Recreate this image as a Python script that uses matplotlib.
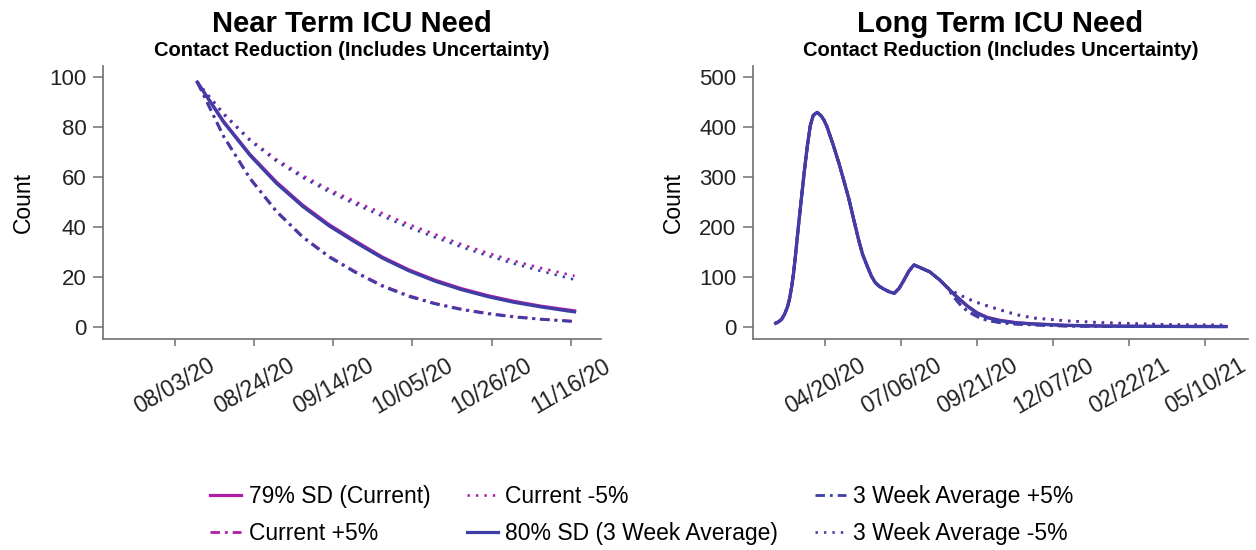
import matplotlib
matplotlib.use("Agg")
import matplotlib.pyplot as plt
import matplotlib.dates as mdates
import pandas as pd

plt.rcParams['font.family'] = ['Liberation Sans', 'DejaVu Sans']

MAG = "#B01CA6"
BLU = "#3D3FA5"

# ---- near term (weekly points) ----
near_dates = ["2020-08-09", "2020-08-16", "2020-08-23", "2020-08-30", "2020-09-06",
              "2020-09-13", "2020-09-20", "2020-09-27", "2020-10-04", "2020-10-11",
              "2020-10-18", "2020-10-25", "2020-11-01", "2020-11-08", "2020-11-15",
              "2020-11-17"]
near_cur = [98, 82.2, 69, 57.9, 48.6, 40.8, 34.2, 27.9, 22.8, 18.6, 15.2, 12.4, 10.1, 8.2, 6.7, 6.3]
near_cur_up = [98, 76.3, 59.5, 46.3, 36, 28.1, 21.9, 16.5, 12.4, 9.3, 7.0, 5.3, 4.0, 3.0, 2.3, 2.1]
near_cur_dn = [98, 85.5, 75, 67, 60.5, 55, 50, 45.5, 41, 37, 33, 29.5, 26.3, 23.5, 21, 20.3]
near_3wk = [98, 81.9, 68.6, 57.4, 48.1, 40.3, 33.7, 27.5, 22.4, 18.2, 14.8, 12.0, 9.7, 7.9, 6.3, 5.9]
near_3wk_up = [98, 76.1, 59.2, 46, 35.7, 27.8, 21.6, 16.2, 12.1, 9.1, 6.8, 5.1, 3.8, 2.9, 2.2, 2.0]
near_3wk_dn = [98, 85, 74.5, 66.3, 59.7, 54, 49, 44.3, 39.8, 35.8, 31.9, 28.4, 25.2, 22.3, 19.6, 18.8]
near_ticks = ["2020-08-03", "2020-08-24", "2020-09-14", "2020-10-05", "2020-10-26", "2020-11-16"]

# ---- long term: shared history, then scenario tails ----
hist_dates = ["2020-03-01", "2020-03-04", "2020-03-07", "2020-03-10", "2020-03-13",
              "2020-03-15", "2020-03-17", "2020-03-19", "2020-03-21", "2020-03-23",
              "2020-03-25", "2020-03-27", "2020-03-30", "2020-04-02", "2020-04-05",
              "2020-04-08", "2020-04-12", "2020-04-16", "2020-04-19", "2020-04-22",
              "2020-04-28", "2020-05-04", "2020-05-09", "2020-05-14", "2020-05-19",
              "2020-05-24", "2020-05-28", "2020-06-02", "2020-06-06", "2020-06-10",
              "2020-06-14", "2020-06-18", "2020-06-24", "2020-06-29", "2020-07-04",
              "2020-07-09", "2020-07-14", "2020-07-19", "2020-07-26", "2020-08-04",
              "2020-08-14"]
hist_icu = [7, 10, 15, 25, 40, 56, 78, 106, 142, 182, 220, 257, 312, 362, 403,
            424, 430, 423, 414, 401, 366, 328, 293, 257, 215, 174, 145, 120, 101, 88,
            81, 76, 70, 67, 77, 94, 112, 124, 118, 110, 94]
tail_dates = ["2020-08-21", "2020-08-28", "2020-09-04", "2020-09-11", "2020-09-21",
              "2020-10-01", "2020-10-14", "2020-10-31", "2020-11-17", "2020-12-21",
              "2021-01-24", "2021-02-27", "2021-04-02", "2021-05-31"]
long_cur = [80, 66.5, 54, 42, 28, 19, 12.8, 8, 5.8, 2.8, 1.5, 0.9, 0.6, 0.4]
long_cur_up = [80, 60.5, 44.5, 32, 21, 13, 8.5, 5.4, 3.7, 1.4, 0.7, 0.4, 0.2, 0.1]
long_cur_dn = [80, 70.5, 63.5, 57, 49, 42.5, 34.5, 24.5, 18, 12, 8.6, 6.5, 4.5, 3.3]
long_3wk = [80, 66, 53.5, 41, 27, 18, 12, 7.5, 5.4, 2.5, 1.3, 0.8, 0.5, 0.3]
long_3wk_up = [80, 60, 43.5, 31, 20, 12.5, 8, 5, 3.4, 1.2, 0.6, 0.3, 0.2, 0.1]
long_3wk_dn = [80, 70, 63, 56, 48, 41.5, 33.5, 23.5, 17, 11.4, 8, 6, 4, 3]
long_ticks = ["2020-04-20", "2020-07-06", "2020-09-21", "2020-12-07", "2021-02-22", "2021-05-10"]

labels = ["79% SD (Current)", "Current +5%", "Current -5%",
          "80% SD (3 Week Average)", "3 Week Average +5%", "3 Week Average -5%"]

DOT = (0, (0.9, 2.3))
DASHDOT = (0, (3.4, 1.8, 1.0, 1.8))
styles = [(MAG, "-", 2.3), (MAG, DASHDOT, 2.0), (MAG, DOT, 1.9),
          (BLU, "-", 2.3), (BLU, DASHDOT, 2.0), (BLU, DOT, 1.9)]

nd = pd.to_datetime(near_dates)
hd = pd.to_datetime(hist_dates)
td = pd.to_datetime(tail_dates)
near_series = [near_cur, near_cur_up, near_cur_dn, near_3wk, near_3wk_up, near_3wk_dn]
long_series = [long_cur, long_cur_up, long_cur_dn, long_3wk, long_3wk_up, long_3wk_dn]

fig = plt.figure(figsize=(12.56, 5.5), dpi=100)
ax1 = fig.add_axes([0.082, 0.3836, 0.3965, 0.4964])
ax2 = fig.add_axes([0.5995, 0.3836, 0.394, 0.4964])

handles = []
for ser, (c, ls, lw), lab in zip(near_series, styles, labels):
    h, = ax1.plot(nd, ser, color=c, linestyle=ls, lw=lw, label=lab)
    handles.append(h)

for ser, (c, ls, lw) in zip(long_series, styles):
    ax2.plot(hd.append(td), list(hist_icu) + list(ser), color=c, linestyle=ls, lw=lw)

ax1.set_xlim(pd.Timestamp("2020-07-15"), pd.Timestamp("2020-11-24"))
ax1.set_ylim(-5, 104.5)
ax1.set_yticks([0, 20, 40, 60, 80, 100])
ax1.set_xticks(pd.to_datetime(near_ticks))

ax2.set_xlim(pd.Timestamp("2020-02-07"), pd.Timestamp("2021-06-22"))
ax2.set_ylim(-24.7, 523)
ax2.set_yticks([0, 100, 200, 300, 400, 500])
ax2.set_xticks(pd.to_datetime(long_ticks))

titles = ["Near Term ICU Need", "Long Term ICU Need"]
for ax, t in zip([ax1, ax2], titles):
    ax.xaxis.set_major_formatter(mdates.DateFormatter("%m/%d/%y"))
    for s in ["top", "right"]:
        ax.spines[s].set_visible(False)
    for s in ["left", "bottom"]:
        ax.spines[s].set_color("#707070")
        ax.spines[s].set_linewidth(1.2)
    ax.tick_params(axis="y", length=7, width=1.1, color="#707070", labelsize=16,
                   labelcolor="#222222", pad=5)
    ax.tick_params(axis="x", length=5, width=1.1, color="#707070", labelsize=16.5,
                   labelcolor="#222222", pad=6, labelrotation=30)
    ax.set_ylabel("Count", fontsize=16.5, labelpad=10)
    ax.text(0.5, 1.125, t, transform=ax.transAxes, ha="center", va="baseline",
            fontsize=21, fontweight="bold")
    ax.text(0.5, 1.037, "Contact Reduction (Includes Uncertainty)", transform=ax.transAxes,
            ha="center", va="baseline", fontsize=14.5, fontweight="bold")

fig.legend(handles=handles, labels=labels, ncol=3, loc="center",
           bbox_to_anchor=(0.511, 0.063), frameon=False, fontsize=16.5,
           handlelength=1.35, handletextpad=0.32, columnspacing=1.6, labelspacing=0.62)

fig.savefig("out.png", dpi=100)
